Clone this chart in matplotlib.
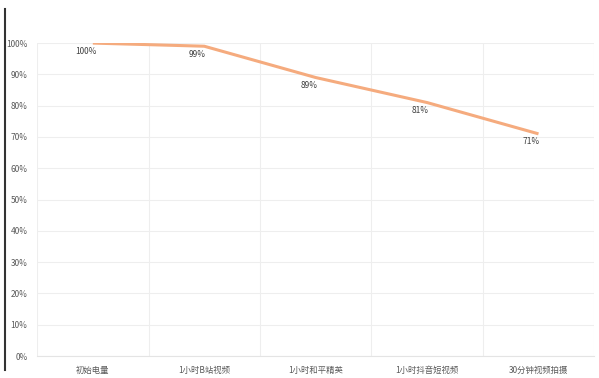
import matplotlib.pyplot as plt
from matplotlib.lines import Line2D
from matplotlib.ticker import PercentFormatter

plt.rcParams['font.family'] = ['Noto Sans CJK SC', 'DejaVu Sans']

categories = ['初始电量', '1小时B站视频', '1小时和平精英', '1小时抖音短视频', '30分钟视频拍摄']
battery = [100, 99, 89, 81, 71]
labels = ['100%', '99%', '89%', '81%', '71%']

fig = plt.figure(figsize=(5.99, 3.78), dpi=100)
ax = fig.add_axes([0.062, 0.058, 0.930, 0.828])

x = list(range(len(categories)))
ax.plot(x, battery, color='#f5ab7e', lw=2.2, solid_capstyle='butt', zorder=3)

for xi, yi, lab in zip(x, battery, labels):
    ax.annotate(lab, (xi, yi), xytext=(-7, -8), textcoords='offset pixels',
                ha='center', va='center', fontsize=6, color='#404040')

ax.set_xlim(-0.5, len(categories) - 0.5)
ax.set_ylim(0, 100)
ax.set_yticks(range(0, 101, 10))
ax.yaxis.set_major_formatter(PercentFormatter(decimals=0))
ax.set_xticks(x)
ax.set_xticklabels(categories)
ax.set_xticks([i + 0.5 for i in range(-1, len(categories))], minor=True)

ax.grid(axis='y', color='#eeeeee', lw=0.8)
ax.grid(axis='x', which='minor', color='#eeeeee', lw=0.8)
ax.grid(axis='x', which='major', visible=False)
ax.set_axisbelow(True)

for s in ['top', 'right', 'left']:
    ax.spines[s].set_visible(False)
ax.spines['bottom'].set_color('#e4e4e4')
ax.tick_params(which='both', length=0)
ax.tick_params(axis='y', labelsize=6, labelcolor='#595959', pad=7)
ax.tick_params(axis='x', labelsize=6, labelcolor='#595959', pad=7)

fig.add_artist(Line2D([0.009, 0.009], [0.02, 0.975], color='#333333', lw=1.5,
                      transform=fig.transFigure))

fig.savefig('out.png', dpi=100)
